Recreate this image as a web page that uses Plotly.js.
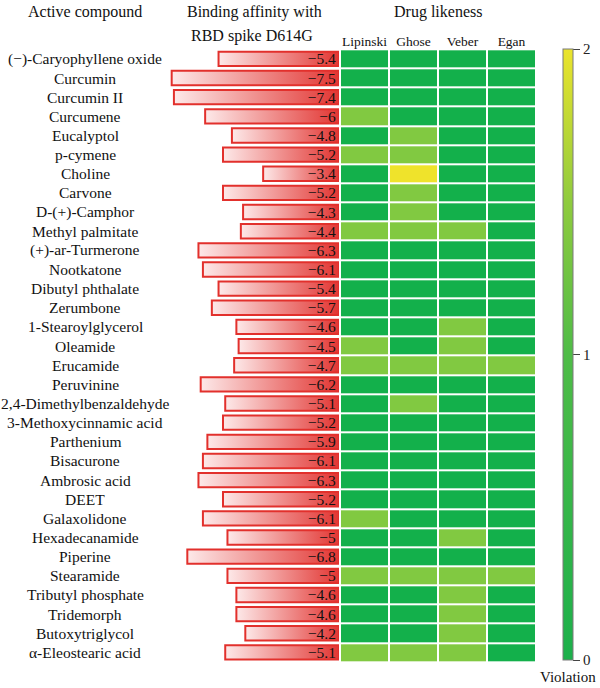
<!DOCTYPE html>
<html>
<head>
<meta charset="utf-8">
<script src="https://cdn.plot.ly/plotly-3.0.1.min.js"></script>
<style>html,body{margin:0;padding:0;background:#fff}</style>
</head>
<body>
<div id="chart" style="width:600px;height:688px"></div>
<script>
// Active compounds, top to bottom
const compounds = [
  '(\u2212)-Caryophyllene oxide', 'Curcumin', 'Curcumin II', 'Curcumene', 'Eucalyptol',
  'p-cymene', 'Choline', 'Carvone', 'D-(+)-Camphor', 'Methyl palmitate',
  '(+)-ar-Turmerone', 'Nootkatone', 'Dibutyl phthalate', 'Zerumbone', '1-Stearoylglycerol',
  'Oleamide', 'Erucamide', 'Peruvinine', '2,4-Dimethylbenzaldehyde', '3-Methoxycinnamic acid',
  'Parthenium', 'Bisacurone', 'Ambrosic acid', 'DEET', 'Galaxolidone',
  'Hexadecanamide', 'Piperine', 'Stearamide', 'Tributyl phosphate', 'Tridemorph',
  'Butoxytriglycol', '\u03b1-Eleostearic acid'
];

// Binding affinity with RBD spike D614G (kcal/mol)
const affinity = [
  -5.4, -7.5, -7.4, -6, -4.8,
  -5.2, -3.4, -5.2, -4.3, -4.4,
  -6.3, -6.1, -5.4, -5.7, -4.6,
  -4.5, -4.7, -6.2, -5.1, -5.2,
  -5.9, -6.1, -6.3, -5.2, -6.1,
  -5, -6.8, -5, -4.6, -4.6,
  -4.2, -5.1
];

// Drug-likeness rule violations per compound
const lipinski = [0,0,0,1,0, 1,0,0,0,1, 0,0,0,0,0, 1,1,0,0,0, 0,0,0,0,1, 0,0,1,0,0, 0,1];
const ghose    = [0,0,0,0,1, 1,2,1,1,1, 0,0,0,0,0, 0,1,0,1,0, 0,0,0,0,0, 0,0,1,0,0, 0,1];
const veber    = [0,0,0,0,0, 0,0,0,0,1, 0,0,0,0,1, 1,1,0,0,0, 0,0,0,0,0, 1,0,1,1,1, 1,1];
const egan     = [0,0,0,0,0, 0,0,0,0,0, 0,0,0,0,0, 0,1,0,0,0, 0,0,0,0,0, 0,0,1,0,0, 0,0];

const ruleNames = ['Lipinski', 'Ghose', 'Veber', 'Egan'];
const violationTicks = [0, 1, 2];

const FONT = "'Liberation Serif', 'DejaVu Serif', serif";
const W = 600, H = 688;
const px = p => p / W;
const py = p => 1 - p / H;

const rows = compounds.map((_, i) => i);
const zMatrix = rows.map(i => [lipinski[i], ghose[i], veber[i], egan[i]]);
const barLabels = affinity.map(v => (v < 0 ? '\u2212' : '') + Math.abs(v));

const halfBar = 0.375;
const traces = [];

// Gradient body of each affinity bar (pale on the left, red at zero)
affinity.forEach((v, i) => {
  traces.push({
    type: 'scatter', mode: 'lines',
    x: [v, 0, 0, v, v],
    y: [i - halfBar, i - halfBar, i + halfBar, i + halfBar, i - halfBar],
    xaxis: 'x', yaxis: 'y',
    fill: 'toself',
    fillcolor: '#ee7777',
    fillgradient: { type: 'horizontal', colorscale: [[0, '#fde9e9'], [1, '#e23633']] },
    line: { width: 0 },
    hoverinfo: 'skip', showlegend: false
  });
});

// Bar outlines and value labels, on an overlaid axis so they sit above the fills
traces.push({
  type: 'bar', orientation: 'h',
  x: affinity, y: rows,
  xaxis: 'x3', yaxis: 'y',
  width: 2 * halfBar,
  marker: { color: 'rgba(0,0,0,0)', line: { color: '#e2302c', width: 2 } },
  text: barLabels,
  textposition: 'inside',
  insidetextanchor: 'start',
  textangle: 0,
  constraintext: 'none',
  insidetextfont: { family: FONT, size: 15.5, color: '#111' },
  hoverinfo: 'skip', showlegend: false
});

// Drug-likeness heatmap
traces.push({
  type: 'heatmap',
  x: ruleNames, y: rows, z: zMatrix,
  xaxis: 'x2', yaxis: 'y',
  zmin: 0, zmax: 2,
  colorscale: [[0, '#13b04b'], [0.5, '#81c941'], [1, '#efe32b']],
  xgap: 2, ygap: 2,
  showscale: false, hoverinfo: 'skip'
});

// Violation colour bar
traces.push({
  type: 'scatter', mode: 'markers',
  x: [null, null, null], y: [null, null, null],
  xaxis: 'x2', yaxis: 'y',
  marker: {
    color: violationTicks, cmin: 0, cmax: 2, opacity: 0,
    colorscale: [[0, '#1cb04b'], [0.5, '#4fbc47'], [0.75, '#8fcb3e'], [1, '#ebe42c']],
    showscale: true,
    colorbar: {
      x: px(563), xanchor: 'left', xref: 'paper',
      y: py(354.5), yanchor: 'middle', yref: 'paper',
      len: 611, lenmode: 'pixels',
      thickness: 10, thicknessmode: 'pixels',
      outlinewidth: 1, outlinecolor: '#7a7a7a',
      xpad: 0, ypad: 0, borderwidth: 0,
      tickmode: 'array', tickvals: violationTicks, ticktext: violationTicks.map(String),
      ticks: 'outside', ticklen: 7, tickwidth: 1, tickcolor: '#444',
      tickfont: { family: FONT, size: 15, color: '#222' }
    }
  },
  hoverinfo: 'skip', showlegend: false
});

const annotations = compounds.map((name, i) => ({
  text: name, xref: 'paper', yref: 'y', x: px(85), y: i,
  xanchor: 'center', yanchor: 'middle', showarrow: false,
  font: { family: FONT, size: 15.5, color: '#111' }
}));

const header = (text, x, y, size) => ({
  text, xref: 'paper', yref: 'paper', x: px(x), y: py(y),
  xanchor: 'center', yanchor: 'middle', showarrow: false,
  font: { family: FONT, size, color: '#111' }
});
annotations.push(header('Active compound', 85, 12, 16));
annotations.push(header('Binding affinity with', 254, 12, 16));
annotations.push(header('RBD spike D614G', 252, 36, 16));
annotations.push(header('Drug likeness', 438, 12, 16));
annotations.push(header('Violation', 568, 677, 15));

const layout = {
  width: W, height: H,
  margin: { l: 0, r: 0, t: 0, b: 0 },
  paper_bgcolor: '#fff', plot_bgcolor: 'rgba(0,0,0,0)',
  showlegend: false,
  font: { family: FONT, color: '#111' },
  xaxis: { domain: [px(165), px(339)], range: [-7.8, 0], visible: false, fixedrange: true },
  xaxis3: { overlaying: 'x', range: [-7.8, 0], visible: false, fixedrange: true },
  xaxis2: {
    domain: [px(340), px(536)], anchor: 'y', side: 'top', type: 'category',
    showgrid: false, zeroline: false, showline: false, ticks: '',
    tickfont: { family: FONT, size: 13.5, color: '#111' }, fixedrange: true
  },
  yaxis: {
    domain: [py(662), py(49.3)], range: [31.5, -0.5],
    visible: false, fixedrange: true
  },
  annotations
};

Plotly.newPlot('chart', traces, layout, { staticPlot: true, displayModeBar: false });
</script>
</body>
</html>
